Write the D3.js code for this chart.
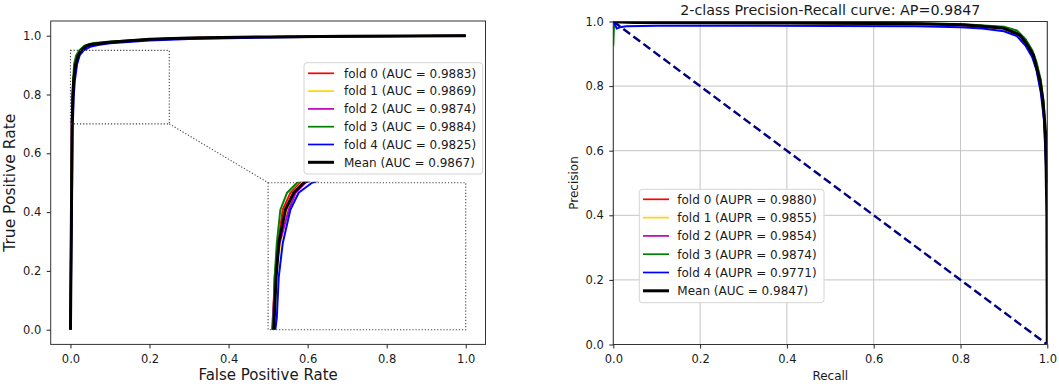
<!DOCTYPE html>
<html><head><meta charset="utf-8">
<script src="https://cdn.jsdelivr.net/npm/d3@7"></script>
<style>
body{margin:0;background:#fff}
svg{display:block}
text{font-family:"DejaVu Sans",sans-serif;fill:#1a1a1a}
</style>
</head><body>
<svg id="c" width="1059" height="384"></svg>
<script>
// ---------------- data ----------------
const ticks = [0, 0.2, 0.4, 0.6, 0.8, 1.0];
const foldNames = ["fold 0", "fold 1", "fold 2", "fold 3", "fold 4", "Mean"];
const rocAUC = [0.9883, 0.9869, 0.9874, 0.9884, 0.9825, 0.9867];
const prAUPR = [0.9880, 0.9855, 0.9854, 0.9874, 0.9771, 0.9847];
const apTitle = "2-class Precision-Recall curve: AP=0.9847";

// ROC points [fpr, tpr]
const roc0 = [[0,0],[0.002,0.4],[0.0035,0.7],[0.005,0.79],[0.0076,0.847],[0.0111,0.904],[0.017,0.933],[0.0245,0.95],[0.04,0.965],[0.06,0.972],[0.1,0.979],[0.2,0.988],[0.3,0.992],[0.5,0.996],[0.7,0.998],[1,1]];
const roc1 = [[0,0],[0.0025,0.4],[0.004,0.7],[0.0058,0.79],[0.0093,0.847],[0.0144,0.904],[0.019,0.933],[0.0258,0.95],[0.04,0.964],[0.06,0.971],[0.1,0.978],[0.2,0.987],[0.3,0.992],[0.5,0.996],[0.7,0.998],[1,1]];
const roc2 = [[0,0],[0.002,0.4],[0.003,0.7],[0.0055,0.79],[0.0087,0.847],[0.0157,0.904],[0.021,0.933],[0.0283,0.95],[0.042,0.963],[0.06,0.971],[0.1,0.978],[0.2,0.987],[0.3,0.992],[0.5,0.996],[0.7,0.998],[1,1]];
const roc3 = [[0,0],[0.002,0.45],[0.0038,0.7],[0.005,0.79],[0.0066,0.847],[0.0093,0.904],[0.0144,0.933],[0.022,0.95],[0.035,0.966],[0.055,0.974],[0.1,0.98],[0.2,0.988],[0.3,0.992],[0.5,0.996],[0.7,0.998],[1,1]];
const roc4 = [[0,0],[0.0035,0.4],[0.0055,0.7],[0.0066,0.72],[0.0081,0.79],[0.0111,0.847],[0.0169,0.904],[0.0232,0.933],[0.0333,0.95],[0.05,0.962],[0.07,0.968],[0.1,0.974],[0.2,0.984],[0.3,0.989],[0.5,0.994],[0.7,0.997],[1,1]];
const rocMean = [[0,0],[0.0028,0.45],[0.0043,0.7],[0.0061,0.79],[0.0081,0.847],[0.0131,0.904],[0.0195,0.933],[0.027,0.95],[0.04,0.965],[0.05,0.97],[0.1,0.978],[0.2,0.988],[0.3,0.992],[0.5,0.996],[0.7,0.998],[1,1]];

// PR points [recall, precision]
const pr0 = [[0,1],[0.01,0.999],[0.1,0.997],[0.4,0.996],[0.7,0.994],[0.8,0.991],[0.9,0.982],[0.93,0.97],[0.95,0.942],[0.965,0.908],[0.975,0.87],[0.985,0.81],[0.992,0.73],[0.997,0.6],[1,0.5]];
const pr1 = [[0,1],[0.01,0.998],[0.1,0.996],[0.4,0.995],[0.7,0.993],[0.8,0.99],[0.9,0.98],[0.93,0.967],[0.95,0.937],[0.965,0.9],[0.975,0.86],[0.985,0.8],[0.992,0.72],[0.997,0.58],[1,0.5]];
const pr2 = [[0,1],[0.01,0.998],[0.1,0.996],[0.4,0.995],[0.7,0.993],[0.8,0.989],[0.9,0.979],[0.93,0.965],[0.95,0.935],[0.965,0.898],[0.975,0.855],[0.985,0.79],[0.992,0.71],[0.997,0.57],[1,0.5]];
const pr3 = [[0,0.925],[0.002,1.0],[0.05,0.998],[0.3,0.996],[0.6,0.995],[0.8,0.992],[0.9,0.984],[0.93,0.972],[0.95,0.945],[0.965,0.912],[0.975,0.875],[0.985,0.82],[0.992,0.74],[0.997,0.6],[1,0.5]];
const pr4 = [[0,1],[0.004,0.99],[0.008,0.978],[0.015,0.982],[0.03,0.985],[0.1,0.987],[0.3,0.987],[0.5,0.986],[0.7,0.985],[0.8,0.982],[0.85,0.978],[0.9,0.97],[0.93,0.955],[0.95,0.925],[0.965,0.89],[0.975,0.85],[0.985,0.78],[0.992,0.7],[0.997,0.55],[1,0.5]];
const prMean = [[0,1],[0.05,0.997],[0.2,0.996],[0.4,0.995],[0.6,0.994],[0.7,0.993],[0.8,0.99],[0.843,0.986],[0.9,0.979],[0.937,0.958],[0.952,0.932],[0.968,0.896],[0.983,0.818],[0.99,0.756],[0.996,0.655],[0.999,0.4],[1,0]];
const chance = [[0,1],[1,0]];

// zoom window and where it is shown (data coords)
const zoomRect = {x0:0, x1:0.25, y0:0.7, y1:0.95};
const insetRect = {x0:0.5, x1:1.0, y0:0, y1:0.5};
const insetView = {x0:0, x1:0.15, y0:0.7, y1:0.95};

// ---------------- style ----------------
const colors = ["#ff0000", "#ffd700", "#bf00bf", "#008000", "#0000ff", "#000000"];
const lw = [2, 2, 2, 2, 2, 3];
const TICK_FS = 11.5;

const svg = d3.select("#c");
const rocData = [roc0, roc1, roc2, roc3, roc4, rocMean];
const prData = [pr0, pr1, pr2, pr3, pr4, prMean];

function drawAxes(g, x, y, left, right, top, bottom) {
  const xa = g.append("g").attr("transform", `translate(0,${bottom})`)
    .call(d3.axisBottom(x).tickValues(ticks).tickFormat(d3.format(".1f")).tickSize(4).tickPadding(6.8).tickSizeOuter(0));
  const ya = g.append("g").attr("transform", `translate(${left},0)`)
    .call(d3.axisLeft(y).tickValues(ticks).tickFormat(d3.format(".1f")).tickSize(4).tickPadding(5.5).tickSizeOuter(0));
  [xa, ya].forEach(a => {
    a.select(".domain").remove();
    a.selectAll("line").attr("stroke", "#222").attr("stroke-width", 1);
    a.selectAll("text").attr("font-size", TICK_FS).attr("fill", "#1a1a1a")
      .style("font-family", '"DejaVu Sans",sans-serif');
  });
}

function legend(g, x0, y0, w, h, rowY0, rowStep, hx0, hx1, tx, labels) {
  g.append("rect").attr("x", x0).attr("y", y0).attr("width", w).attr("height", h)
    .attr("rx", 3).attr("fill", "#fff").attr("fill-opacity", 0.85).attr("stroke", "#d4d4d4").attr("stroke-width", 1);
  labels.forEach((t, i) => {
    const yy = rowY0 + i * rowStep;
    g.append("line").attr("x1", hx0).attr("x2", hx1).attr("y1", yy).attr("y2", yy)
      .attr("stroke", colors[i]).attr("stroke-width", i === 5 ? 3 : 1.7);
    g.append("text").attr("x", tx).attr("y", yy).attr("dy", "0.36em")
      .attr("font-size", 12).text(t);
  });
}

// ================= LEFT: ROC =================
{
  const L = 50.7, R = 485.5, T = 21, B = 344.4;
  const x = d3.scaleLinear().domain([-0.05, 1.05]).range([L, R]);
  const y = d3.scaleLinear().domain([-0.05, 1.05]).range([B, T]);
  const g = svg.append("g");
  g.append("clipPath").attr("id", "clipL").append("rect")
    .attr("x", L).attr("y", T).attr("width", R - L).attr("height", B - T);

  const line = d3.line().x(d => x(d[0])).y(d => y(d[1]));
  const cg = g.append("g").attr("clip-path", "url(#clipL)");
  rocData.forEach((d, i) => {
    cg.append("path").datum(d).attr("d", line).attr("fill", "none")
      .attr("stroke", colors[i]).attr("stroke-width", lw[i]).attr("stroke-linejoin", "round");
  });

  // zoom rectangle + inset
  const dot = s => s.attr("fill", "none").attr("stroke", "#444").attr("stroke-width", 1.1).attr("stroke-dasharray", "1.2,1.9");
  g.append("rect").attr("x", x(zoomRect.x0)).attr("y", y(zoomRect.y1))
    .attr("width", x(zoomRect.x1) - x(zoomRect.x0)).attr("height", y(zoomRect.y0) - y(zoomRect.y1)).call(dot);
  g.append("line").attr("x1", x(zoomRect.x1)).attr("y1", y(zoomRect.y0))
    .attr("x2", x(insetRect.x0)).attr("y2", y(insetRect.y1)).call(dot);

  const ix0 = x(insetRect.x0), ix1 = x(insetRect.x1), iy0 = y(insetRect.y1), iy1 = y(insetRect.y0);
  const xi = d3.scaleLinear().domain([insetView.x0, insetView.x1]).range([ix0, ix1]);
  const yi = d3.scaleLinear().domain([insetView.y0, insetView.y1]).range([iy1, iy0]);
  g.append("rect").attr("x", ix0).attr("y", iy0).attr("width", ix1 - ix0).attr("height", iy1 - iy0)
    .attr("fill", "#fff");
  g.append("clipPath").attr("id", "clipI").append("rect")
    .attr("x", ix0).attr("y", iy0 - 1).attr("width", ix1 - ix0).attr("height", iy1 - iy0 + 1);
  const lineI = d3.line().x(d => xi(d[0])).y(d => yi(d[1]));
  const ig = g.append("g").attr("clip-path", "url(#clipI)");
  rocData.forEach((d, i) => {
    ig.append("path").datum(d).attr("d", lineI).attr("fill", "none")
      .attr("stroke", colors[i]).attr("stroke-width", lw[i]).attr("stroke-linejoin", "round");
  });
  g.append("rect").attr("x", ix0).attr("y", iy0).attr("width", ix1 - ix0).attr("height", iy1 - iy0).call(dot);

  // frame
  g.append("rect").attr("x", L).attr("y", T).attr("width", R - L).attr("height", B - T)
    .attr("fill", "none").attr("stroke", "#333").attr("stroke-width", 1);
  drawAxes(g, x, y, L, R, T, B);

  g.append("text").attr("x", (L + R) / 2).attr("y", 380).attr("text-anchor", "middle")
    .attr("font-size", 15).text("False Positive Rate");
  g.append("text").attr("transform", `translate(15,${(T + B) / 2}) rotate(-90)`)
    .attr("text-anchor", "middle").attr("font-size", 15.5).text("True Positive Rate");

  legend(g, 304, 62.7, 178.7, 111.3, 73.3, 17.8, 308, 334, 344,
    foldNames.map((n, i) => `${n} (AUC = ${rocAUC[i].toFixed(4)})`));
}

// ================= RIGHT: PR =================
{
  const L = 613.3, R = 1047.3, T = 21.5, B = 344.5;
  const x = d3.scaleLinear().domain([0, 1]).range([L, R]);
  const y = d3.scaleLinear().domain([0, 1]).range([B, T]);
  const g = svg.append("g");
  // grid
  ticks.forEach(t => {
    g.append("line").attr("x1", x(t)).attr("x2", x(t)).attr("y1", T).attr("y2", B)
      .attr("stroke", "#c4c4c4").attr("stroke-width", 1);
    g.append("line").attr("y1", y(t)).attr("y2", y(t)).attr("x1", L).attr("x2", R)
      .attr("stroke", "#c4c4c4").attr("stroke-width", 1);
  });
  g.append("clipPath").attr("id", "clipR").append("rect")
    .attr("x", L).attr("y", T).attr("width", R - L).attr("height", B - T);
  const line = d3.line().x(d => x(d[0])).y(d => y(d[1]));
  const cg = g.append("g").attr("clip-path", "url(#clipR)");
  prData.forEach((d, i) => {
    cg.append("path").datum(d).attr("d", line).attr("fill", "none")
      .attr("stroke", colors[i]).attr("stroke-width", lw[i]).attr("stroke-linejoin", "round");
  });
  cg.append("path").datum(chance).attr("d", line).attr("fill", "none")
    .attr("stroke", "#000080").attr("stroke-width", 2.4).attr("stroke-dasharray", "8.5,4");

  g.append("rect").attr("x", L).attr("y", T).attr("width", R - L).attr("height", B - T)
    .attr("fill", "none").attr("stroke", "#333").attr("stroke-width", 1);
  drawAxes(g, x, y, L, R, T, B);

  g.append("text").attr("x", (L + R) / 2).attr("y", 15).attr("text-anchor", "middle")
    .attr("font-size", 14.3).text(apTitle);
  g.append("text").attr("x", (L + R) / 2).attr("y", 380).attr("text-anchor", "middle")
    .attr("font-size", 12).text("Recall");
  g.append("text").attr("transform", `translate(577.5,${(T + B) / 2}) rotate(-90)`)
    .attr("text-anchor", "middle").attr("font-size", 12).text("Precision");

  legend(g, 639.3, 189.3, 184.7, 113.4, 199.3, 18.3, 643, 669, 677.3,
    foldNames.map((n, i) => i === 5 ? `${n} (AUC = ${prAUPR[i].toFixed(4)})` : `${n} (AUPR = ${prAUPR[i].toFixed(4)})`));
}
</script>
</body></html>
